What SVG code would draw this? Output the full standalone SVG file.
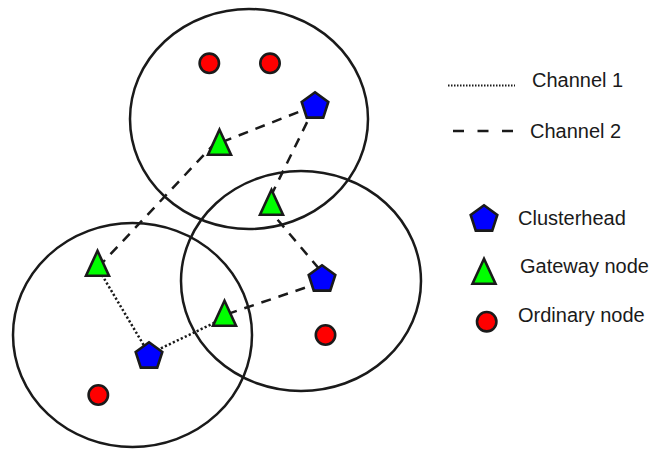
<svg xmlns="http://www.w3.org/2000/svg" xmlns:xlink="http://www.w3.org/1999/xlink" width="668" height="449" viewBox="0 0 668 449">
  <style>
    .area { fill: none; stroke: #1a1a1a; stroke-width: 2.5; }
    .ch2 { fill: none; stroke: #1a1a1a; stroke-width: 2.5; stroke-dasharray: 10 8; }
    .ch1 { fill: none; stroke: #1a1a1a; stroke-width: 2.5; stroke-dasharray: 2.2 2.2; }
    .head { fill: #0000ff; stroke: #1a1a1a; stroke-width: 2.6; stroke-linejoin: miter; }
    .gate { fill: #00ff00; stroke: #1a1a1a; stroke-width: 2.6; stroke-linejoin: miter; }
    .ord { fill: #ff0000; stroke: #1a1a1a; stroke-width: 2.6; }
    .lbl { font-family: "Liberation Sans", Arial, Helvetica, sans-serif; font-size: 20px; fill: #1a1a1a; }
  </style>
  <defs>
    <polygon id="pent" points="0,-14 13.31,-4.33 8.23,11.33 -8.23,11.33 -13.31,-4.33"/>
    <polygon id="tri" points="0,-25 11.5,0 -11.5,0"/>
  </defs>

  <g id="clusters">
    <ellipse id="cluster-top" class="area" cx="249" cy="119" rx="119" ry="110"/>
    <ellipse id="cluster-left" class="area" cx="132.5" cy="335" rx="119.5" ry="112"/>
    <ellipse id="cluster-right" class="area" cx="301" cy="281" rx="120" ry="110"/>
  </g>

  <g id="connectors">
    <line class="ch2" x1="315" y1="105.5" x2="219.5" y2="143"/>
    <line class="ch2" x1="216" y1="142" x2="97.5" y2="268"/>
    <line class="ch2" x1="315" y1="106" x2="266" y2="206"/>
    <line class="ch2" x1="266" y1="206" x2="326" y2="277"/>
    <line class="ch2" x1="322" y1="282" x2="224.5" y2="315"/>
    <line class="ch1" x1="97.5" y1="267.5" x2="149" y2="354"/>
    <line class="ch1" x1="149" y1="354" x2="224.5" y2="318"/>
  </g>

  <g id="ordinary-1"><circle class="ord" cx="209.3" cy="63.3" r="9.7"/></g>
  <g id="ordinary-2"><circle class="ord" cx="270" cy="63.3" r="9.7"/></g>
  <g id="ordinary-3"><circle class="ord" cx="325.5" cy="335" r="9.7"/></g>
  <g id="ordinary-4"><circle class="ord" cx="98.3" cy="395" r="9.7"/></g>

  <g id="gateway-1"><use xlink:href="#tri" class="gate" x="219.5" y="154.7"/></g>
  <g id="gateway-2"><use xlink:href="#tri" class="gate" x="271.5" y="214.8"/></g>
  <g id="gateway-3"><use xlink:href="#tri" class="gate" x="97.5" y="275.8"/></g>
  <g id="gateway-4"><use xlink:href="#tri" class="gate" x="224.5" y="325.8"/></g>

  <g id="clusterhead-1"><use xlink:href="#pent" class="head" x="315" y="106.3"/></g>
  <g id="clusterhead-2"><use xlink:href="#pent" class="head" x="322" y="279.3"/></g>
  <g id="clusterhead-3"><use xlink:href="#pent" class="head" x="149" y="356.3"/></g>

  <g id="legend">
    <line x1="448" y1="85.5" x2="515" y2="85.5" stroke="#1a1a1a" stroke-width="1.8" stroke-dasharray="1.5 1.5"/>
    <text class="lbl" x="532" y="87">Channel 1</text>
    <line x1="453" y1="131" x2="515" y2="131" stroke="#1a1a1a" stroke-width="2.5" stroke-dasharray="11 13.5"/>
    <text class="lbl" x="530" y="138">Channel 2</text>
    <use xlink:href="#pent" class="head" x="484" y="219.3"/>
    <text class="lbl" x="518" y="225">Clusterhead</text>
    <use xlink:href="#tri" class="gate" x="484" y="283.8"/>
    <text class="lbl" x="520" y="273">Gateway node</text>
    <circle class="ord" cx="486.7" cy="321.7" r="9.7"/>
    <text class="lbl" x="518" y="322">Ordinary node</text>
  </g>
</svg>
